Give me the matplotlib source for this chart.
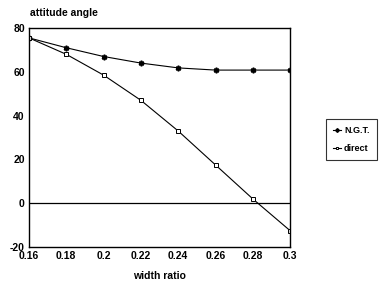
import matplotlib.pyplot as plt

plt.rcParams['font.family'] = ['Liberation Sans', 'DejaVu Sans']
plt.rcParams['axes.unicode_minus'] = False

# width ratio vs attitude angle
width_ratio = [0.16, 0.18, 0.2, 0.22, 0.24, 0.26, 0.28, 0.3]
ngt = [75.5, 71, 67, 64, 61.8, 60.8, 60.8, 60.8]
direct = [75.5, 68, 58.5, 47, 33, 17.5, 2, -12.5]

xticks = [0.16, 0.18, 0.2, 0.22, 0.24, 0.26, 0.28, 0.3]
xticklabels = ['0.16', '0.18', '0.2', '0.22', '0.24', '0.26', '0.28', '0.3']
yticks = [-20, 0, 20, 40, 60, 80]

fig = plt.figure(figsize=(3.79, 2.86), dpi=100)
ax = fig.add_axes([0.0765, 0.136, 0.689, 0.766])

ax.plot(width_ratio, ngt, color='black', lw=0.8, marker=(6, 2, 0), ms=4,
        mew=1.2, label='N.G.T.')
ax.plot(width_ratio, direct, color='black', lw=0.8, marker='s', ms=3,
        mfc='white', mew=0.7, label='direct')
ax.axhline(0, color='black', lw=0.9)

ax.set_xlim(0.16, 0.3)
ax.set_ylim(-20, 80)
ax.set_xticks(xticks)
ax.set_xticklabels(xticklabels)
ax.set_yticks(yticks)
ax.tick_params(length=0, labelsize=7.5, pad=3)
for lab in ax.get_xticklabels() + ax.get_yticklabels():
    lab.set_fontweight('bold')
for s in ax.spines.values():
    s.set_linewidth(1.0)

ax.set_xlabel('width ratio', fontsize=7.5, fontweight='bold', labelpad=7)
fig.text(0.08, 0.955, 'attitude angle', fontsize=7.5, fontweight='bold',
         va='center', ha='left')

leg = ax.legend(loc='center left', bbox_to_anchor=(1.12, 0.49), fontsize=6.5,
                frameon=True, fancybox=False, edgecolor='black',
                handlelength=0.9, borderpad=0.8, labelspacing=1.0,
                handletextpad=0.3, markerscale=0.7)
leg.get_frame().set_linewidth(0.8)
for t in leg.get_texts():
    t.set_fontweight('bold')

fig.savefig('out.png', dpi=100)
